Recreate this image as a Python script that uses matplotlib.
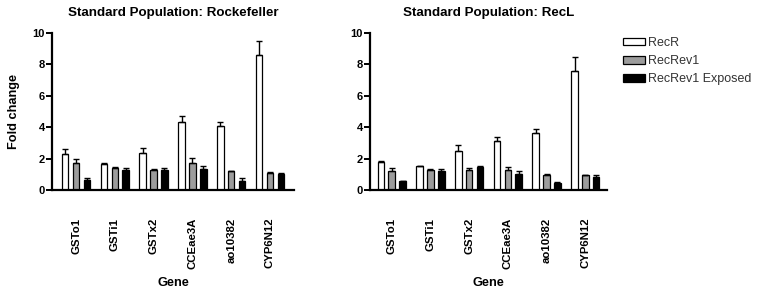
import matplotlib
matplotlib.use("Agg")
import matplotlib.pyplot as plt
import numpy as np

plt.rcParams['font.family'] = ['Liberation Sans', 'DejaVu Sans']

genes = ["GSTo1", "GSTi1", "GSTx2", "CCEae3A", "ao10382", "CYP6N12"]
series = ["RecR", "RecRev1", "RecRev1 Exposed"]
colors = ["white", "#9c9c9c", "black"]

# Rockefeller
rock_mean = {
    "RecR": [2.3, 1.65, 2.35, 4.35, 4.1, 8.6],
    "RecRev1": [1.75, 1.4, 1.25, 1.75, 1.2, 1.1],
    "RecRev1 Exposed": [0.65, 1.3, 1.28, 1.35, 0.6, 1.0],
}
rock_err = {
    "RecR": [0.3, 0.07, 0.3, 0.35, 0.25, 0.9],
    "RecRev1": [0.25, 0.07, 0.07, 0.3, 0.03, 0.05],
    "RecRev1 Exposed": [0.12, 0.12, 0.1, 0.2, 0.15, 0.07],
}

# RecL
recl_mean = {
    "RecR": [1.8, 1.5, 2.5, 3.15, 3.6, 7.6],
    "RecRev1": [1.2, 1.3, 1.25, 1.25, 0.95, 0.95],
    "RecRev1 Exposed": [0.55, 1.2, 1.45, 1.05, 0.45, 0.85],
}
recl_err = {
    "RecR": [0.07, 0.05, 0.35, 0.2, 0.3, 0.85],
    "RecRev1": [0.18, 0.03, 0.15, 0.2, 0.05, 0.03],
    "RecRev1 Exposed": [0.03, 0.12, 0.07, 0.15, 0.05, 0.13],
}

fig = plt.figure(figsize=(7.57, 2.93), dpi=100)
ax1 = fig.add_axes([0.0687, 0.3515, 0.3197, 0.5358])
ax2 = fig.add_axes([0.4888, 0.3515, 0.3131, 0.5358])

x = np.arange(len(genes))
w = 0.17
offs = [-0.28, 0.0, 0.28]


def draw(ax, means, errs, title, xlim):
    for s, c, o in zip(series, colors, offs):
        m = np.array(means[s])
        e = np.array(errs[s])
        ax.bar(x + o, m, w, color=c, edgecolor="black", linewidth=0.9,
               yerr=[np.zeros_like(e), e], capsize=2,
               error_kw=dict(elinewidth=1, capthick=1, ecolor="black"),
               label=s)
    ax.set_ylim(0, 10)
    ax.set_xlim(*xlim)
    ax.set_yticks([0, 2, 4, 6, 8, 10])
    ax.set_xticks(x)
    ax.set_xticklabels(genes, rotation=90, fontweight="bold", fontsize=8.2,
                       va="top", ha="center")
    for lab in ax.get_yticklabels():
        lab.set_fontweight("bold")
        lab.set_fontsize(8)
    ax.tick_params(axis="x", length=0, pad=20)
    ax.tick_params(axis="y", length=4, width=1.4, pad=1)
    for sp in ["top", "right"]:
        ax.spines[sp].set_visible(False)
    for sp in ["left", "bottom"]:
        ax.spines[sp].set_linewidth(1.6)
    ax.set_title(title, fontweight="bold", fontsize=9.6, pad=12)
    ax.set_xlabel("Gene", fontweight="bold", fontsize=9.2, labelpad=6)


draw(ax1, rock_mean, rock_err, "Standard Population: Rockefeller", (-0.62, 5.62))
draw(ax2, recl_mean, recl_err, "Standard Population: RecL", (-0.56, 5.56))
ax1.set_ylabel("Fold change", fontweight="bold", fontsize=9.2, labelpad=9)

leg = ax2.legend(loc="upper left", bbox_to_anchor=(0.823, 0.874),
                 bbox_transform=fig.transFigure, frameon=False, fontsize=9,
                 handlelength=1.76, handleheight=0.56, handletextpad=0.25,
                 labelspacing=0.5, borderpad=0, borderaxespad=0)
for t in leg.get_texts():
    t.set_color("#333333")

fig.savefig("out.png", dpi=100)
